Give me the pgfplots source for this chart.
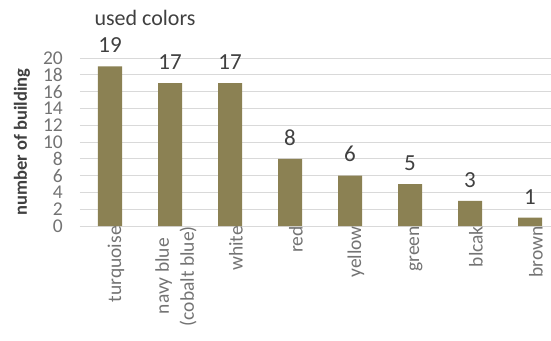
\documentclass[border=0pt]{standalone}
\usepackage{pgfplots}
\pgfplotsset{compat=1.18}
\usepackage{fontspec}
\setmainfont{Carlito}
\definecolor{barcol}{RGB}{139,129,83}
\definecolor{gridcol}{RGB}{217,217,217}
\definecolor{tickcol}{RGB}{115,115,115}
\definecolor{labcol}{RGB}{64,64,64}
\begin{document}
\begin{tikzpicture}
\useasboundingbox (-80pt,-114pt) rectangle (471pt,226pt);
\begin{axis}[
  scale only axis,
  width=471pt, height=168pt,
  xmin=-0.5, xmax=7.35,
  ymin=0, ymax=20,
  ytick={0,2,...,20},
  xtick=data,
  xticklabels={turquoise,{navy blue\\(cobalt blue)},white,red,yellow,green,blcak,brown},
  xticklabel style={rotate=90, anchor=east, align=center, font=\fontsize{19.5}{25}\selectfont, text=tickcol, inner sep=0pt, yshift=-6pt},
  yticklabel style={font=\fontsize{19.5}{19.5}\selectfont, text=tickcol, inner sep=0pt, xshift=-17pt},
  /pgf/number format/assume math mode=true,
  tick style={draw=none},
  axis x line*=bottom,
  axis y line*=left,
  y axis line style={draw=none},
  x axis line style={draw=gridcol, line width=1pt, -},
  ymajorgrids, grid style={draw=gridcol, line width=1pt},
  ylabel={number of building},
  every axis y label/.style={at={(axis description cs:-0.1231,0.5)}, rotate=90, anchor=center, font=\fontsize{18.5}{18.5}\selectfont\bfseries, text=labcol},
  nodes near coords,
  nodes near coords style={font=\fontsize{23}{23}\selectfont, text=labcol, anchor=south, yshift=10pt},
  clip=false,
]
\addplot[ybar, bar width=24pt, fill=barcol, draw=none] coordinates {
 (0,19) (1,17) (2,17) (3,8) (4,6) (5,5) (6,3) (7,1)
};
\node[font=\fontsize{22}{22}\selectfont, text=labcol] at (rel axis cs:0.138,1.238) {used colors};
\end{axis}
\end{tikzpicture}
\end{document}
